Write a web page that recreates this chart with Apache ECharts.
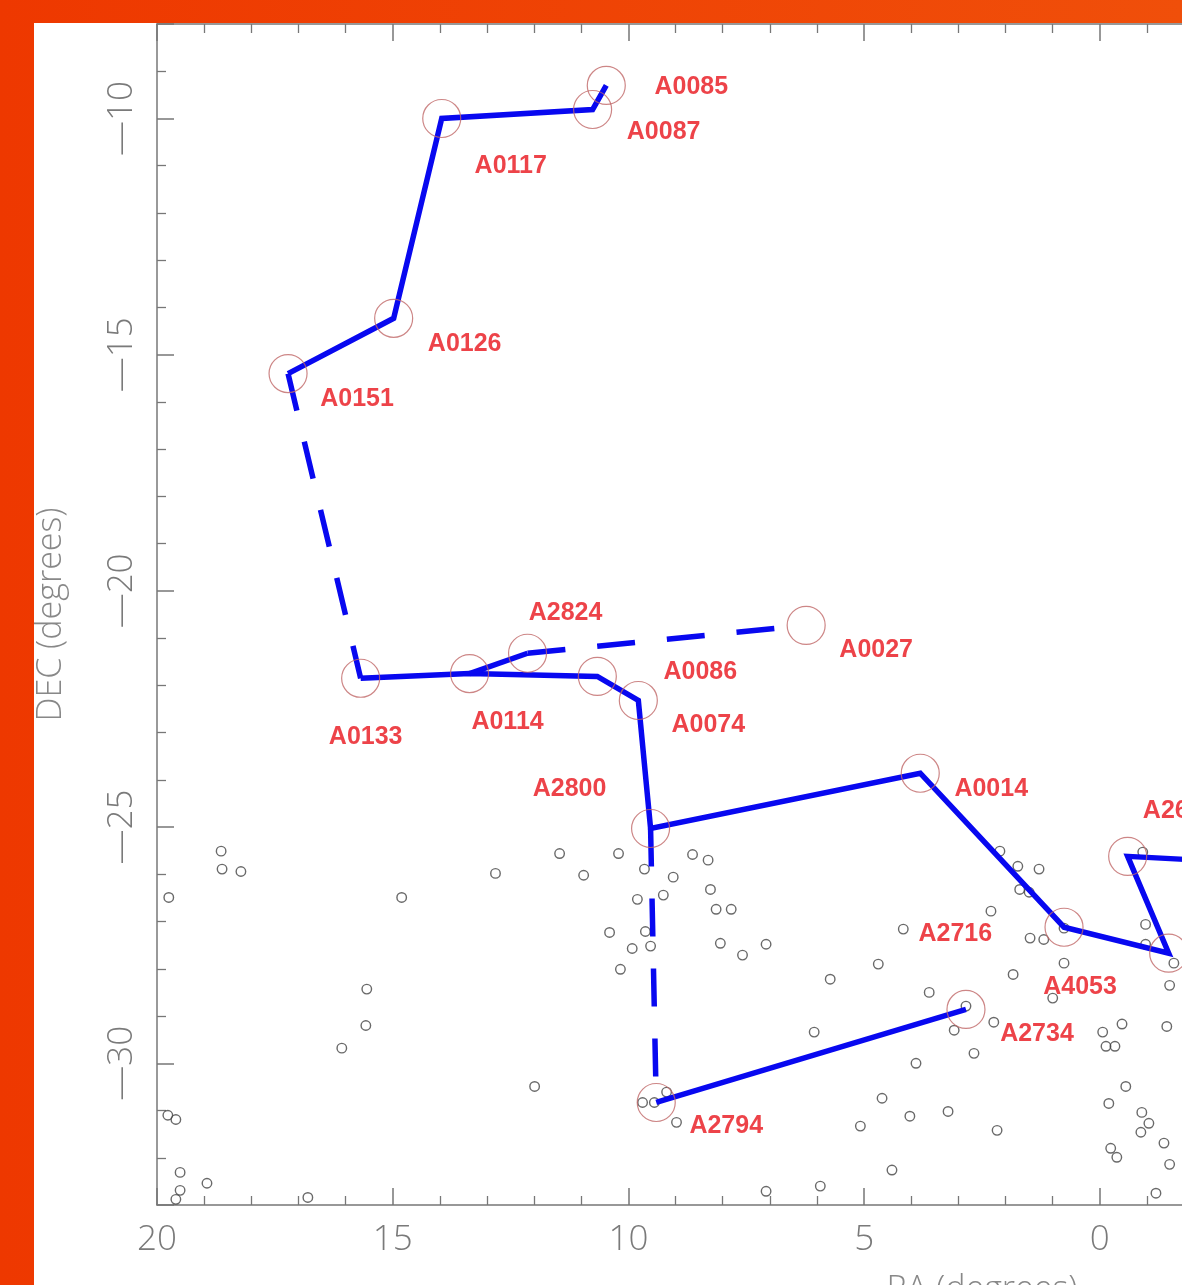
<!DOCTYPE html>
<html><head><meta charset="utf-8">
<script src="https://cdn.jsdelivr.net/npm/echarts@6/dist/echarts.min.js"></script>
<style>
html,body{margin:0;padding:0;width:1182px;height:1285px;overflow:hidden;background:linear-gradient(to right,#ee3800,#f04f0a);}
#chart{position:absolute;left:34px;top:23px;width:1900px;height:1300px;background:#fff;}
</style></head><body><div id="chart"></div>
<script>
// ---- data ----
const xTickValues = [20, 15, 10, 5, 0, -5, -10, -15];
const yTickValues = [-30, -25, -20, -15, -10];

const fieldRA = [18.64,18.62,18.22,19.75,14.81,15.55,15.57,16.08,19.77,19.60,19.51,18.94,19.51,19.60,16.80,
  12.82,11.46,10.95,10.21,9.66,9.81,9.26,9.05,8.64,8.31,8.26,8.14,7.82,
  10.40,9.64,9.53,9.92,10.17,8.05,7.58,7.08,
  11.99,9.70,9.45,9.19,8.98,7.08,
  4.17,2.31,4.70,5.72,1.84,3.62,2.84,3.09,2.25,6.06,2.67,3.90,4.62,3.22,4.03,5.08,2.18,4.41,5.93,
  2.12,1.74,1.29,1.70,1.50,1.48,1.19,0.76,0.76,1.00,
  -0.91,-0.97,-0.97,-1.57,-1.48,-1.42,-0.06,-0.47,-0.13,-0.32,-0.55,-0.19,-0.89,-1.04,-0.87,-1.36,-0.23,-0.36,-1.48,-1.19];
const fieldDEC = [-25.51,-25.89,-25.94,-26.49,-26.49,-28.43,-29.20,-29.68,-31.10,-31.19,-32.31,-32.54,-32.69,-32.88,-32.84,
  -25.98,-25.56,-26.02,-25.56,-25.89,-26.53,-26.44,-26.06,-25.58,-25.70,-26.32,-26.74,-26.74,
  -27.23,-27.21,-27.52,-27.57,-28.01,-27.46,-27.71,-27.48,
  -30.49,-30.83,-30.83,-30.61,-31.25,-32.71,
  -27.16,-26.78,-27.90,-28.22,-28.12,-28.50,-28.79,-29.30,-29.13,-29.34,-29.79,-30.00,-30.74,-31.02,-31.12,-31.33,-31.42,-32.26,-32.60,
  -25.51,-25.83,-25.89,-26.32,-26.38,-27.35,-27.38,-27.14,-27.88,-28.62,
  -25.53,-27.06,-27.48,-27.88,-28.35,-29.22,-29.34,-29.17,-29.64,-29.64,-30.49,-30.85,-31.04,-31.27,-31.46,-31.69,-31.80,-31.99,-32.14,-32.75];

const clusterNames = ['A0085','A0087','A0117','A0126','A0151','A0133','A0114','A2824','A0086','A0074','A0027',
  'A2800','A0014','A4053','A2716','A2734','A2794','A2667','unlabeled','offscreen'];
const clusterRA  = [10.47,10.76,13.96,14.98,17.22,15.68,13.37,12.14,10.66,9.79,6.23,
  9.53,3.81,0.76,4.17,2.84,9.41,-0.59,-1.46,-4.0];
const clusterDEC = [-9.30,-9.81,-10.00,-14.23,-15.40,-21.85,-21.75,-21.32,-21.81,-22.32,-20.73,
  -25.03,-23.86,-27.12,-27.16,-28.86,-30.83,-25.62,-27.67,-25.8];
const circled = ['A0085','A0087','A0117','A0126','A0151','A0133','A0114','A2824','A0086','A0074','A0027',
  'A2800','A0014','A4053','A2734','A2794','A2667','unlabeled'];
const labelled = ['A0085','A0087','A0117','A0126','A0151','A0133','A0114','A2824','A0086','A0074','A0027',
  'A2800','A0014','A4053','A2716','A2734','A2794','A2667'];

const solidPaths = [
  ['A0085','A0087','A0117','A0126','A0151'],
  ['A0133','A0114','A0086','A0074','A2800','A0014','A4053','unlabeled','A2667','offscreen'],
  ['A0114','A2824'],
  ['A2794','A2734']
];
const dashedPaths = [
  ['A0151','A0133'],
  ['A2824','A0027'],
  ['A2800','A2794']
];

// ---- styling ----
const labelOffset = {
  A0085:[85,2], A0087:[71,23], A0117:[69,48], A0126:[71,26], A0151:[69,26], A0133:[5,59],
  A0114:[38,49], A2824:[38,-40], A0086:[103,-4], A0074:[70,25], A0027:[70,25], A2800:[-81,-39],
  A0014:[71,16], A4053:[16,60], A2716:[52,5], A2734:[71,25], A2794:[70,24], A2667:[52,-45]
};
const AX = '#777';
const thin = '"Open Sans", "DejaVu Sans", sans-serif';
const pos = n => { const i = clusterNames.indexOf(n); return [clusterRA[i], clusterDEC[i]]; };
const BLUE = '#0808f0';

const lineSeries = [];
solidPaths.forEach(p => lineSeries.push({type:'line', data:p.map(pos), showSymbol:false, symbol:'none', z:3, silent:true,
  lineStyle:{color:BLUE, width:5.5, join:'miter'}}));
dashedPaths.forEach(p => lineSeries.push({type:'line', data:p.map(pos), showSymbol:false, symbol:'none', z:3, silent:true,
  lineStyle:{color:BLUE, width:5.5, type:[38,32]}}));

const clusterData = clusterNames.filter(n => circled.includes(n) || labelled.includes(n)).map(n => ({
  name: n, value: pos(n),
  symbolSize: circled.includes(n) ? 38 : 0,
  label: labelled.includes(n) ? {show:true, offset: labelOffset[n]} : {show:false}
}));

const xBase = {type:'value', min:-15, max:20, interval:5, inverse:true,
  axisLine:{onZero:false, lineStyle:{color:AX, width:1.5}},
  axisTick:{inside:true, length:17, lineStyle:{color:AX, width:1.5}},
  minorTick:{show:true, splitNumber:5, length:9, lineStyle:{color:AX, width:1.3}},
  splitLine:{show:false}, minorSplitLine:{show:false}};
const yBase = {type:'value', min:-33, max:-8, splitNumber:5, minInterval:5, maxInterval:5,
  axisLine:{onZero:false, lineStyle:{color:AX, width:1.5}},
  axisTick:{inside:true, length:17, lineStyle:{color:AX, width:1.5}},
  minorTick:{show:true, splitNumber:5, length:9, lineStyle:{color:AX, width:1.3}},
  splitLine:{show:false}, minorSplitLine:{show:false}};

const chart = echarts.init(document.getElementById('chart'), null, {renderer:'canvas'});
chart.setOption({
  animation:false,
  grid:{left:123, top:1, width:1650, height:1181, containLabel:false, outerBoundsMode:'none'},
  xAxis:[
    Object.assign({}, xBase, {position:'bottom', name:'RA (degrees)', nameLocation:'middle', nameGap:68,
      nameTextStyle:{fontFamily:thin, fontWeight:300, fontSize:34, color:'#888'},
      axisLabel:{margin:18, fontFamily:thin, fontWeight:300, fontSize:35, color:'#7a7a7a',
        formatter: v => xTickValues.includes(v) ? String(v).replace('-', '\u2014') : ''}}),
    Object.assign({}, xBase, {position:'top', axisLabel:{show:false}})
  ],
  yAxis:[
    Object.assign({}, yBase, {position:'left', name:'DEC (degrees)', nameLocation:'middle', nameGap:89, nameRotate:90,
      nameTextStyle:{fontFamily:thin, fontWeight:300, fontSize:34, color:'#888'},
      axisLabel:{rotate:90, margin:17, fontFamily:thin, fontWeight:300, fontSize:35, color:'#7a7a7a',
        formatter: v => yTickValues.includes(v) ? String(v).replace('-', '\u2014') : ''}}),
    Object.assign({}, yBase, {position:'right', axisLabel:{show:false}})
  ],
  series:[
    {type:'scatter', data: fieldRA.map((r,i) => [r, fieldDEC[i]]), symbol:'circle', symbolSize:9.5, z:2, silent:true,
      itemStyle:{color:'rgba(255,255,255,0)', borderColor:'#444', borderWidth:1.4}},
    ...lineSeries,
    {type:'scatter', data: clusterData, symbol:'circle', z:4, silent:true,
      itemStyle:{color:'rgba(255,255,255,0)', borderColor:'#c06868', borderWidth:1.2},
      label:{position:'inside', formatter:'{b}', color:'#e8141c', fontSize:25, fontWeight:'bold', fontFamily:'"Liberation Sans", Arial, sans-serif'}}
  ]
});
</script></body></html>
